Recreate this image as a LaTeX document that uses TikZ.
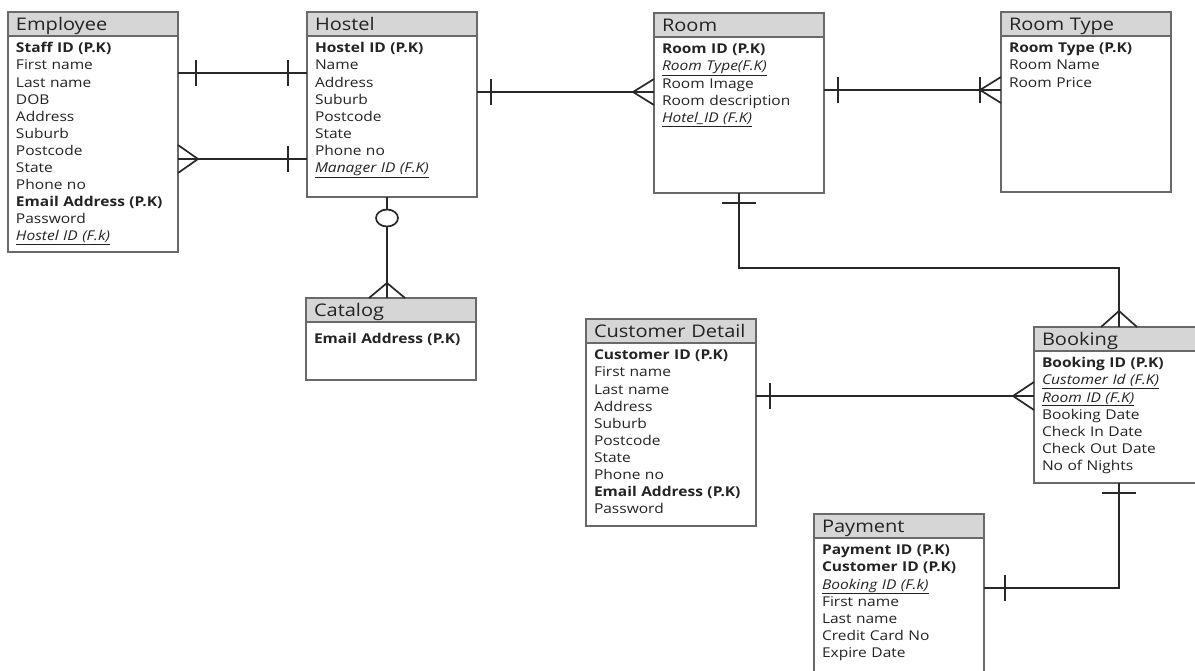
\documentclass[tikz,border=0pt]{standalone}
\usepackage{fontspec}
\setmainfont{Open Sans}[FakeStretch=1.15]
\usepackage{xcolor}
\usepackage{tikz}
\usetikzlibrary{positioning, decorations.markings}
\definecolor{hdrgray}{RGB}{214,214,214}
\definecolor{boxgray}{RGB}{105,105,105}
\definecolor{linegray}{RGB}{40,40,40}
\definecolor{txtgray}{RGB}{35,35,35}
\tikzstyle{entity} = [rectangle, draw=boxgray, line width=1.1pt, fill=hdrgray, anchor=north west, outer sep=0pt, text width=154pt, align=left, inner xsep=8pt, inner ysep=0pt, text height=18.5pt, text depth=5.5pt, font=\fontsize{17.4}{20}\selectfont, text=txtgray]
\tikzstyle{fields} = [rectangle, draw=boxgray, line width=1.1pt, fill=white, outer sep=0pt, text width=154pt, align=left, inner xsep=8pt, inner ysep=0pt, text height=16.8pt, font=\fontsize{13.5}{17.1}\selectfont, text=txtgray]
\tikzstyle{rel} = [draw=linegray, line width=1.7pt]
\tikzset{
  bar at/.style 2 args={postaction={decorate, decoration={markings, mark=at position #1 with {\draw[rel] (0pt,-#2) -- (0pt,#2);}}}},
  crow end/.style 2 args={postaction={decorate, decoration={markings, mark=at position -#1 with {\draw[rel] (#1,#2) -- (0pt,0pt) -- (#1,-#2);}}}},
  crow start/.style 2 args={postaction={decorate, decoration={markings, mark=at position #1 with {\draw[rel] (-#1,#2) -- (0pt,0pt) -- (-#1,-#2);}}}},
  ring at/.style={postaction={decorate, decoration={markings, mark=at position #1 with {\draw[rel, fill=white] (0pt,0pt) ellipse [x radius=8.5pt, y radius=11pt];}}}}
}
\newcommand{\fk}[1]{\underline{\textit{#1}}}
\begin{document}
\begin{tikzpicture}[x=1pt, y=-1pt]
    \path [use as bounding box, fill=white] (0,0) rectangle (1195,670);

    % entities
    \node (emp) [entity] at (8,12) {Employee};
    \node (empbody) [fields, below=0pt of emp, text depth=199.2pt] {\textbf{Staff ID (P.K)}\\ First name\\ Last name\\ DOB\\ Address\\ Suburb\\ Postcode\\ State\\ Phone no\\ \textbf{Email Address (P.K)}\\ Password\\ \fk{Hostel ID (F.k)}};

    \node (host) [entity] at (307,12) {Hostel};
    \node (hostbody) [fields, below=0pt of host, text depth=144.2pt] {\textbf{Hostel ID (P.K)}\\ Name\\ Address\\ Suburb\\ Postcode\\ State\\ Phone no\\ \fk{Manager ID (F.K)}};

    \node (room) [entity] at (654,13) {Room};
    \node (roombody) [fields, below=0pt of room, text depth=139.2pt] {\textbf{Room ID (P.K)}\\ \fk{Room Type(F.K)}\\ Room Image\\ Room description\\ \fk{Hotel\_ID (F.K)}};

    \node (rtype) [entity] at (1001,12) {Room Type};
    \node (rtypebody) [fields, below=0pt of rtype, text depth=139.2pt] {\textbf{Room Type (P.K)}\\ Room Name\\ Room Price};

    \node (cat) [entity] at (306,298) {Catalog};
    \node (catbody) [fields, below=0pt of cat, text height=21.5pt, text depth=36.5pt] {\textbf{Email Address (P.K)}};

    \node (cust) [entity] at (586,319) {Customer Detail};
    \node (custbody) [fields, below=0pt of cust, text depth=166.2pt] {\textbf{Customer ID (P.K)}\\ First name\\ Last name\\ Address\\ Suburb\\ Postcode\\ State\\ Phone no\\ \textbf{Email Address (P.K)}\\ Password};

    \node (book) [entity] at (1034,327) {Booking};
    \node (bookbody) [fields, below=0pt of book, text depth=115.2pt] {\textbf{Booking ID (P.K)}\\ \fk{Customer Id (F.K)}\\ \fk{Room ID (F.K)}\\ Booking Date\\ Check In Date\\ Check Out Date\\ No of Nights};

    \node (pay) [entity] at (814,514) {Payment};
    \node (paybody) [fields, below=0pt of pay, text depth=125.2pt] {\textbf{Payment ID (P.K)}\\ \textbf{Customer ID (P.K)}\\ \fk{Booking ID (F.k)}\\ First name\\ Last name\\ Credit Card No\\ Expire Date};

    % relationships
    \draw [rel, bar at={18pt}{13pt}, bar at={-19pt}{13pt}] ([yshift=-37pt]empbody.north east) coordinate (eh1) -- (eh1 -| hostbody.west);
    \draw [rel, crow start={20pt}{14pt}, bar at={-19pt}{13pt}] ([yshift=-123pt]empbody.north east) coordinate (eh2) -- (eh2 -| hostbody.west);
    \draw [rel, bar at={14pt}{13pt}, crow end={21pt}{13pt}] ([yshift=-56pt]hostbody.north east) coordinate (hr) -- (hr -| roombody.west);
    \draw [rel, bar at={14pt}{13pt}, bar at={-21pt}{13pt}, crow end={21pt}{13pt}] ([yshift=-53pt]roombody.north east) coordinate (rt) -- (rt -| rtypebody.west);
    \draw [rel, ring at=21pt, crow end={15pt}{18pt}] ([xshift=80pt]hostbody.south west) coordinate (hc) -- (hc |- cat.north);
    \draw [rel, bar at={10pt}{17pt}, crow end={16pt}{18pt}] (roombody.south) -- ++(0,75) -| (book.north);
    \draw [rel, bar at={14pt}{13pt}, crow end={21pt}{14pt}] ([yshift=-53pt]custbody.north east) coordinate (cb) -- (cb -| bookbody.west);
    \draw [rel, bar at={10pt}{17pt}, bar at={-21pt}{13pt}] (bookbody.south) |- ([yshift=-50pt]paybody.north east);
\end{tikzpicture}
\end{document}
